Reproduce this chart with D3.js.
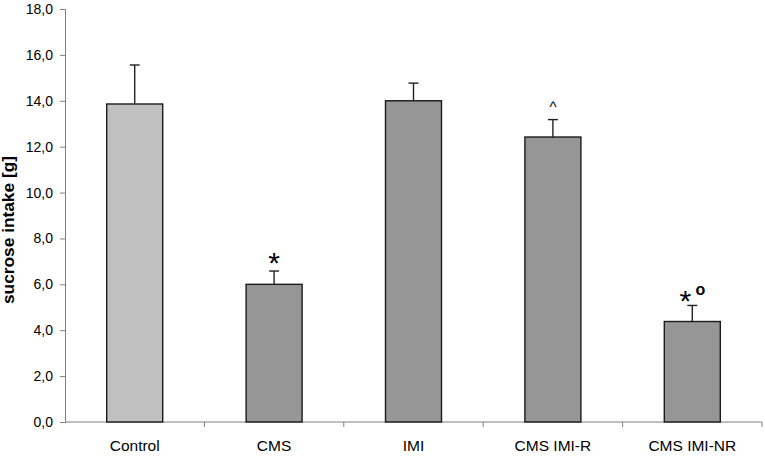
<!DOCTYPE html>
<html>
<head>
<meta charset="utf-8">
<script src="https://cdn.jsdelivr.net/npm/d3@7"></script>
<style>
body { margin: 0; background: #fff; }
text { font-family: "Liberation Sans", Arial, sans-serif; }
</style>
</head>
<body>
<div id="vis"></div>
<script>
const categories = ["Control", "CMS", "IMI", "CMS IMI-R", "CMS IMI-NR"];
const means = [13.86, 6.0, 14.0, 12.42, 4.38];
const errors = [1.70, 0.58, 0.77, 0.76, 0.70];
const marks = ["", "*", "", "^", "*"];
const yTicks = [0, 2, 4, 6, 8, 10, 12, 14, 16, 18];

const margin = { top: 9, right: 3, bottom: 35, left: 65 };
const width = 765 - margin.left - margin.right;
const height = 457 - margin.top - margin.bottom;

const svg = d3.select('#vis')
	.append('svg')
		.attr("width", 765)
		.attr("height", 457)
	.append("g")
		.attr("transform", `translate(${margin.left},${margin.top})`);

const y = d3.scaleLinear()
	.domain([0, 18])
	.range([height, 0]);

const band = width / categories.length;
const cx = i => band * i + band / 2;
const errTop = i => y(means[i] + errors[i]);

// y axis
const yAxis = svg.append("g")
	.call(d3.axisLeft(y).tickValues(yTicks).tickSize(5).tickFormat(d => d3.format(".1f")(d).replace(".", ",")));
yAxis.select(".domain").attr("stroke", "#808080");
yAxis.selectAll(".tick line").attr("stroke", "#808080");
yAxis.selectAll("text").attr("font-size", 14).attr("fill", "#000").attr("x", -12);

// x axis with ticks at band boundaries
const bounds = categories.map((c, i) => (i + 1) * band);
svg.append("line")
	.attr("x1", 0).attr("x2", width)
	.attr("y1", height).attr("y2", height)
	.attr("stroke", "#808080");
svg.selectAll("xtick")
	.data(bounds)
	.join("line")
		.attr("x1", d => d).attr("x2", d => d)
		.attr("y1", height).attr("y2", height + 5)
		.attr("stroke", "#808080");

svg.selectAll("xlab")
	.data(categories)
	.join("text")
		.attr("x", (d, i) => cx(i))
		.attr("y", height + 29)
		.attr("text-anchor", "middle")
		.attr("font-size", 15.5)
		.text(d => d);

const bw = 56;
// error bars (upper only)
svg.selectAll("errline")
	.data(categories)
	.join("line")
		.attr("x1", (d, i) => cx(i))
		.attr("x2", (d, i) => cx(i))
		.attr("y1", (d, i) => y(means[i]))
		.attr("y2", (d, i) => errTop(i))
		.attr("stroke", "#222")
		.attr("stroke-width", 1.4);
svg.selectAll("errcap")
	.data(categories)
	.join("line")
		.attr("x1", (d, i) => cx(i) - 5)
		.attr("x2", (d, i) => cx(i) + 5)
		.attr("y1", (d, i) => errTop(i))
		.attr("y2", (d, i) => errTop(i))
		.attr("stroke", "#222")
		.attr("stroke-width", 1.4);

svg.selectAll("bar")
	.data(categories)
	.join("rect")
		.attr("x", (d, i) => cx(i) - bw / 2)
		.attr("y", (d, i) => y(means[i]))
		.attr("width", bw)
		.attr("height", (d, i) => height - y(means[i]))
		.attr("fill", (d, i) => i === 0 ? "#c0c0c0" : "#969696")
		.attr("stroke", "#1a1a1a")
		.attr("stroke-width", 1.4);

// significance marks
const starIdx = marks.map((m, i) => m === "*" ? i : -1).filter(i => i >= 0);
svg.selectAll("star")
	.data(starIdx)
	.join("text")
		.attr("x", i => cx(i) + (i === 4 ? -7 : 0))
		.attr("y", i => errTop(i) + (i === 4 ? 6 : 2))
		.attr("text-anchor", "middle")
		.attr("font-size", 30)
		.text("*");

svg.selectAll("caret")
	.data(marks.map((m, i) => m === "^" ? i : -1).filter(i => i >= 0))
	.join("text")
		.attr("x", i => cx(i))
		.attr("y", i => errTop(i) - 8)
		.attr("text-anchor", "middle")
		.attr("font-size", 15)
		.text("^");

svg.append("text")
	.attr("x", cx(4) + 8)
	.attr("y", errTop(4) - 10)
	.attr("text-anchor", "middle")
	.attr("font-size", 16)
	.attr("font-weight", "bold")
	.text("o");

svg.append("text")
	.attr("transform", `translate(${-51},${221}) rotate(-90)`)
	.attr("text-anchor", "middle")
	.attr("font-size", 16)
	.attr("font-weight", "bold")
	.attr("textLength", 148)
	.attr("lengthAdjust", "spacingAndGlyphs")
	.text("sucrose intake [g]");
</script>
</body>
</html>
